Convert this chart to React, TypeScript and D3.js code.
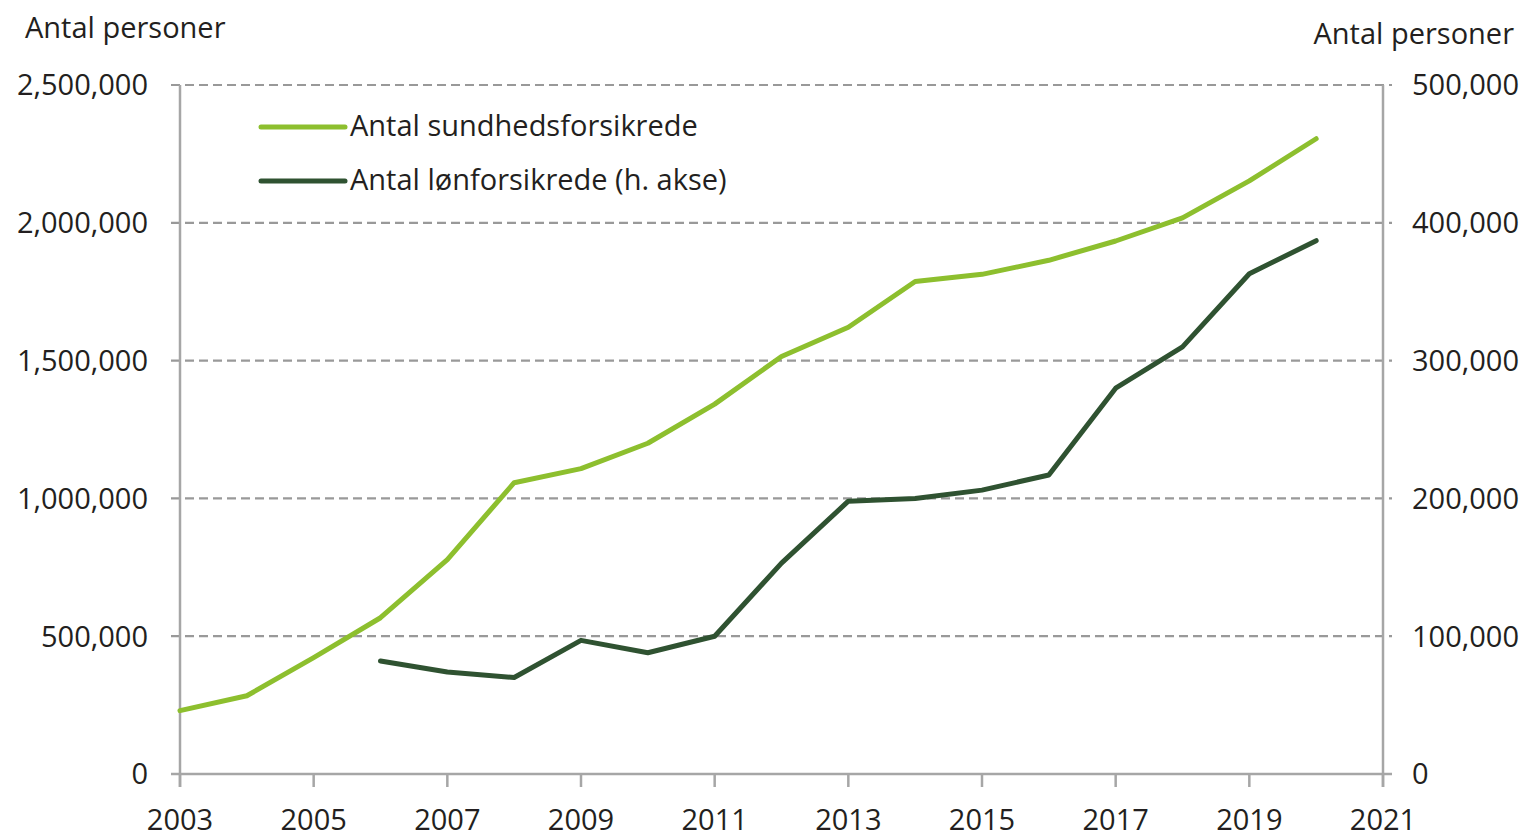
import React from "react";
import * as d3 from "d3";

const years = [2003, 2004, 2005, 2006, 2007, 2008, 2009, 2010, 2011, 2012, 2013, 2014, 2015, 2016, 2017, 2018, 2019, 2020];
const sundhed = [230000, 284000, 422000, 567000, 778000, 1057000, 1108000, 1200000, 1342000, 1515000, 1621000, 1787000, 1813000, 1864000, 1934000, 2018000, 2152000, 2305000];
const lonYears = [2006, 2007, 2008, 2009, 2010, 2011, 2012, 2013, 2014, 2015, 2016, 2017, 2018, 2019, 2020];
const lon = [82000, 74000, 70000, 97000, 88000, 100000, 153000, 198000, 200000, 206000, 217000, 280000, 310000, 363000, 387000];
const xTicks = [2003, 2005, 2007, 2009, 2011, 2013, 2015, 2017, 2019, 2021];
const leftTicks = [0, 500000, 1000000, 1500000, 2000000, 2500000];
const rightTicks = [0, 100000, 200000, 300000, 400000, 500000];
const seriesNames = ["Antal sundhedsforsikrede", "Antal lønforsikrede (h. akse)"];
const axisTitle = "Antal personer";

const LIGHT = "#8dbf2e";
const DARK = "#2f5231";
const FONT = "'Open Sans', sans-serif";
const TEXT = "#231f20";

export default function App() {
  const W = 1524, H = 837;
  const x = d3.scaleLinear().domain([2003, 2021]).range([180, 1383]);
  const yL = d3.scaleLinear().domain([0, 2500000]).range([774, 85]);
  const yR = d3.scaleLinear().domain([0, 500000]).range([774, 85]);
  const fmt = d3.format(",");
  const lineL = d3.line<number>().x((_, i) => x(years[i])).y((d) => yL(d));
  const lineR = d3.line<number>().x((_, i) => x(lonYears[i])).y((d) => yR(d));

  return (
    <svg width={W} height={H} style={{ position: "absolute", left: 0, top: 0, background: "#fff" }}>
      <rect x={0} y={0} width={W} height={H} fill="#fff" />
      {leftTicks.slice(1).map((t) => (
        <line key={"g" + t} x1={171} x2={1392} y1={yL(t)} y2={yL(t)} stroke="#999" strokeWidth={2.2} strokeDasharray="9,5" />
      ))}
      <line x1={x(2003)} x2={x(2003)} y1={yL(2500000)} y2={787} stroke="#a6a6a6" strokeWidth={2.5} />
      <line x1={x(2021)} x2={x(2021)} y1={yL(2500000)} y2={787} stroke="#a6a6a6" strokeWidth={2.5} />
      <line x1={171} x2={1392} y1={yL(0)} y2={yL(0)} stroke="#a6a6a6" strokeWidth={2.5} />
      {xTicks.map((t) => (
        <line key={"xt" + t} x1={x(t)} x2={x(t)} y1={yL(0)} y2={787} stroke="#a6a6a6" strokeWidth={2.5} />
      ))}
      {xTicks.map((t) => (
        <text key={"xl" + t} x={x(t)} y={830} textAnchor="middle" fontFamily={FONT} fontSize={29} fill={TEXT}>{t}</text>
      ))}
      {leftTicks.map((t) => (
        <text key={"yl" + t} x={148} y={yL(t)} dy="0.36em" textAnchor="end" fontFamily={FONT} fontSize={29} fill={TEXT}>{fmt(t)}</text>
      ))}
      {rightTicks.map((t) => (
        <text key={"yr" + t} x={1412} y={yR(t)} dy="0.36em" textAnchor="start" fontFamily={FONT} fontSize={29} fill={TEXT}>{fmt(t)}</text>
      ))}
      <text x={25} y={38} fontFamily={FONT} fontSize={29} fill={TEXT}>{axisTitle}</text>
      <text x={1514} y={44} textAnchor="end" fontFamily={FONT} fontSize={29} fill={TEXT}>{axisTitle}</text>
      <path d={lineL(sundhed) || ""} fill="none" stroke={LIGHT} strokeWidth={5} strokeLinejoin="round" strokeLinecap="round" />
      <path d={lineR(lon) || ""} fill="none" stroke={DARK} strokeWidth={5} strokeLinejoin="round" strokeLinecap="round" />
      <line x1={261} x2={345} y1={127} y2={127} stroke={LIGHT} strokeWidth={5} strokeLinecap="round" />
      <line x1={261} x2={345} y1={181} y2={181} stroke={DARK} strokeWidth={5} strokeLinecap="round" />
      <text x={350} y={136} fontFamily={FONT} fontSize={29} fill={TEXT}>{seriesNames[0]}</text>
      <text x={350} y={190} fontFamily={FONT} fontSize={29} fill={TEXT}>{seriesNames[1]}</text>
    </svg>
  );
}
